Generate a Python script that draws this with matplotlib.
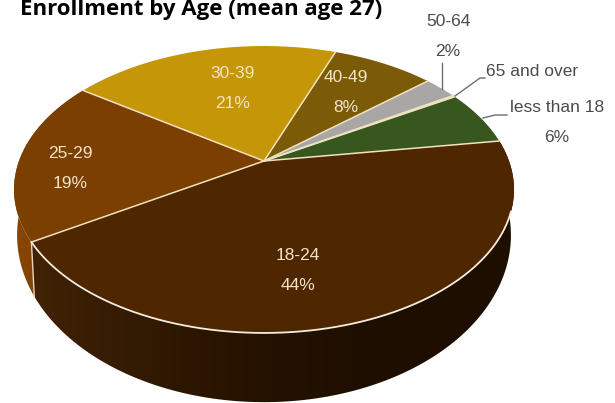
import numpy as np
import matplotlib
matplotlib.use("Agg")
import matplotlib.pyplot as plt
from matplotlib.colors import LinearSegmentedColormap
from matplotlib.patches import Polygon

# data, going round from the right side of the pie
ages = ["less than 18", "65 and over", "50-64", "40-49", "30-39", "25-29", "18-24"]
shares = [6.2, 0.2, 2.6, 8, 21, 18.5, 43.6]
shown_pct = ["6%", "", "2%", "8%", "21%", "19%", "44%"]
colors = ["#38571f", "#dfe8e8", "#a9a6a6", "#7b5a08", "#c49608", "#7b3f02", "#4e2600"]
start_angle = 8.6

FONT = ["Liberation Sans"]
CREAM = "#f3e4c6"
GREY = "#4b4b4b"


# circle -> picture, a simple perspective so the centre sits above the ellipse middle
def project(theta, x0, y0, a, b, k=0.1986):
    t = np.radians(theta)
    u = np.cos(t)
    v = np.sin(t)
    d = 1 + k * v
    return x0 + b * u / d, y0 - a * v / d


def top(theta):
    return project(theta, 264, 161, 137.8, 245)


def bottom(theta):
    return project(theta, 264, 202, 160.4, 242)


fig = plt.figure(figsize=(6.15, 4.03), dpi=100)
ax = fig.add_axes([0, 0, 1, 1])

edges = start_angle + np.concatenate([[0], np.cumsum(shares)]) * 360 / sum(shares)

# side wall, only the lower slices show
wall_maps = {
    "25-29": ["#8a4703", "#6f3802"],
    "18-24": ["#412205", "#311902", "#241100", "#1d0e00", "#1f0e00"],
}
for i, age in enumerate(ages):
    if age not in wall_maps:
        continue
    th = np.linspace(edges[i], edges[i + 1], 200)
    tx, ty = top(th)
    bx, by = bottom(th)
    pts = np.column_stack([np.r_[tx, bx[::-1]], np.r_[ty, by[::-1]]])
    poly = Polygon(pts, closed=True, fc="none", ec="none")
    ax.add_patch(poly)
    cmap = LinearSegmentedColormap.from_list(age, wall_maps[age])
    im = ax.imshow(np.linspace(0, 1, 256)[None, :], cmap=cmap, aspect="auto",
                   extent=[pts[:, 0].min(), pts[:, 0].max(), 403, 0], zorder=1)
    im.set_clip_path(poly)

# line between the two wall parts
wall_edge = edges[ages.index("18-24")]
tx, ty = top(wall_edge)
bx, by = bottom(wall_edge)
ax.plot([tx, bx], [ty, by], color="#e8d5b5", lw=1.0, zorder=2)

# top face
for i, age in enumerate(ages):
    th = np.linspace(edges[i], edges[i + 1], 200)
    x, y = top(th)
    ax.fill(np.r_[264, x], np.r_[161, y], color=colors[i], lw=0, zorder=3)

# spokes
for i, e in enumerate(edges[:-1]):
    x, y = top(e)
    ax.plot([264, x], [161, y], color="#f0e2bf", lw=1.1, zorder=4, solid_capstyle="round")

# pale rim on the front of the big slice, it stops before the right side
i = ages.index("18-24")
x, y = top(np.linspace(edges[i], 340, 300))
ax.plot(x, y, color="#f4ecdf", lw=1.3, zorder=4)

# labels inside
inside = {"40-49": (346, 78), "30-39": (233, 73), "25-29": (70, 153), "18-24": (298, 255)}
for age, (lx, ly) in inside.items():
    ax.text(lx, ly, age, color=CREAM, family=FONT, fontsize=12.5, ha="center", va="center", zorder=5)
    pct = shown_pct[ages.index(age)]
    ax.text(lx, ly + 30, pct, color=CREAM, family=FONT, fontsize=12.5, ha="center", va="center", zorder=5)

# labels outside with leaders
ax.text(448, 21, "50-64", color=GREY, family=FONT, fontsize=12.5, ha="center", va="center")
ax.text(448, 51, shown_pct[2], color=GREY, family=FONT, fontsize=12.5, ha="center", va="center")
ax.text(486, 71, "65 and over", color=GREY, family=FONT, fontsize=12.5, ha="left", va="center")
ax.text(557, 107, "less than 18", color=GREY, family=FONT, fontsize=12.5, ha="center", va="center")
ax.text(557, 138, shown_pct[0], color=GREY, family=FONT, fontsize=12.5, ha="center", va="center")

ax.plot([442, 442], [63, 89], color="#6e6e6e", lw=1, zorder=5)
ax.plot([455, 480, 485], [96, 78, 78], color="#6e6e6e", lw=1, zorder=5)
ax.plot([483, 495, 507], [118, 115, 115], color="#6e6e6e", lw=1, zorder=5)

ax.text(20, 15.5, "Enrollment by Age (mean age 27)", color="black", family="Open Sans",
        fontweight="bold", fontsize=16, ha="left", va="baseline")

ax.set_xlim(0, 615)
ax.set_ylim(403, 0)
ax.axis("off")

fig.savefig("out.png", dpi=100)
